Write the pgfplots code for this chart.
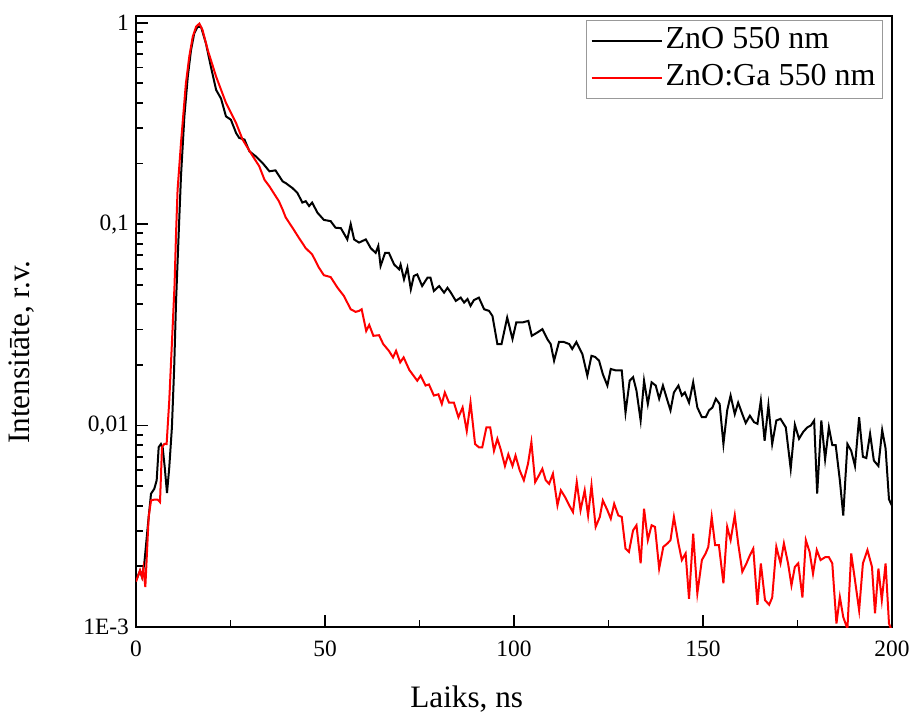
\documentclass[border=0pt]{standalone}
\usepackage{fontspec}
\setmainfont{Liberation Serif}
\usepackage{pgfplots}
\pgfplotsset{compat=1.18}
\begin{document}
\begin{tikzpicture}
\begin{axis}[
  scale only axis,
  width=378pt, height=305.5pt,
  ymode=log,
  xmin=0, xmax=200, ymin=0.001, ymax=1.08,
  xtick={0,50,100,150,200},
  xticklabels={0,50,100,150,200},
  minor x tick num=1,
  ytick={0.001,0.01,0.1,1},
  yticklabels={1E-3,{0,01},{0,1},1},
  tick pos=left,
  tick align=inside,
  major tick length=6pt,
  minor tick length=3.5pt,
  every tick/.style={black, line width=0.9pt},
  axis line style={line width=1.2pt},
  ticklabel style={font=\fontsize{11.7}{14}\selectfont},
  xticklabel style={yshift=-3.5pt},
  xlabel={Laiks, ns},
  ylabel={Intensitāte, r.v.},
  label style={font=\fontsize{15.6}{18}\selectfont},
  x label style={at={(axis description cs:0.4374,-0.1315)}, anchor=base},
  y label style={at={(axis description cs:-0.152,0.45)}, anchor=center, rotate=0},
  legend style={at={(rel axis cs:1,1)}, anchor=north east, xshift=-4.5pt, yshift=-2pt,
    draw=gray!80, line width=0.6pt, fill=white, inner xsep=2pt, inner ysep=1pt,
    font=\fontsize{16}{18}\selectfont,
    nodes={inner sep=1.5pt, text height=11.5pt, text depth=4pt}},
  legend cell align=left,
  legend image code/.code={\draw[#1] (0pt,0pt) -- (35pt,0pt);},
]
\addplot[black, line width=1pt] coordinates {
(0,0.0017) (1.06,0.0019) (1.6,0.00177) (2.2,0.00207) (3.1,0.00314) (3.97,0.00459)
(4.85,0.00486) (5.47,0.00535) (6.0,0.00781) (6.6,0.0081) (7.05,0.0078) (7.6,0.00622)
(8.2,0.00462) (8.8,0.0062) (9.5,0.0098) (10.1,0.0194) (10.6,0.0416) (11.3,0.0906)
(11.9,0.173) (12.8,0.343) (13.7,0.54) (14.55,0.73) (15.4,0.885) (16.3,0.955)
(17.2,0.955) (18.5,0.79) (19.8,0.606) (21.2,0.464) (22.5,0.42) (23.8,0.343)
(25.1,0.33) (26.5,0.283) (27.3,0.268) (28.7,0.263) (30.0,0.23) (31.7,0.217)
(33.5,0.201) (35.3,0.183) (36.9,0.185) (38.8,0.163) (39.6,0.160) (41.4,0.151)
(42.7,0.143) (44.0,0.128) (44.9,0.130) (45.8,0.123) (46.6,0.128) (48.0,0.114)
(49.7,0.105) (51.5,0.1035) (52.8,0.096) (54.2,0.0955) (55.9,0.084) (56.8,0.100)
(57.7,0.084) (59.0,0.081) (60.8,0.084) (62.1,0.076) (63.4,0.072) (64.1,0.078)
(64.7,0.062) (65.9,0.072) (66.9,0.072) (68.3,0.063) (69.6,0.0597) (70.0,0.063)
(70.9,0.0532) (71.8,0.0608) (72.7,0.0475) (73.5,0.0553) (74.4,0.0563) (75.7,0.0493)
(77.1,0.0542) (77.9,0.0542) (78.8,0.0466) (80.2,0.0493) (81.5,0.0457) (82.4,0.0483)
(83.3,0.0457) (84.6,0.0416) (85.9,0.0432) (86.8,0.0408) (87.7,0.0425) (88.5,0.0393)
(89.4,0.042) (90.7,0.0432) (92.1,0.0378) (93.4,0.0371) (94.3,0.035) (95.6,0.0254)
(96.7,0.0254) (98.2,0.0344) (99.6,0.0269) (100.6,0.0325) (102.2,0.0325) (103.8,0.0331)
(104.7,0.0279) (106.2,0.029) (107.5,0.0301) (108.8,0.0269) (109.7,0.0254) (110.6,0.021)
(111.9,0.026) (113.2,0.026) (114.6,0.0254) (115.4,0.024) (116.5,0.026) (118.1,0.0226)
(119.4,0.0177) (120.5,0.0222) (121.5,0.0219) (122.5,0.021) (123.5,0.018) (124.7,0.0158)
(125.6,0.0191) (126.9,0.0188) (128.5,0.0188) (129.5,0.0116) (130.6,0.0167) (131.5,0.0174)
(132.4,0.0149) (133.5,0.0106) (134.4,0.0167) (135.4,0.0128) (136.4,0.0164) (137.5,0.0158)
(138.4,0.0136) (139.4,0.0158) (140.6,0.0133) (141.4,0.0119) (142.3,0.0146) (143.5,0.0158)
(144.4,0.0141) (145.2,0.0146) (146.3,0.0130) (147.4,0.0164) (148.5,0.0123) (149.7,0.011)
(150.7,0.011) (151.6,0.0119) (152.5,0.0123) (153.4,0.0136) (154.4,0.0128) (155.4,0.0081)
(156.4,0.0119) (157.3,0.0141) (158.4,0.0114) (159.3,0.0130) (160.4,0.0114) (161.3,0.0103)
(162.4,0.0112) (163.5,0.0104) (164.4,0.0102) (165.3,0.0133) (166.3,0.0084) (167.3,0.0126)
(168.3,0.0081) (169.4,0.0106) (170.5,0.0108) (171.9,0.0098) (173.2,0.0061) (174.3,0.0101)
(175.4,0.0086) (176.5,0.0093) (177.6,0.0098) (178.5,0.0100) (179.4,0.0106) (180.2,0.0046)
(181.3,0.0106) (182.3,0.0068) (183.3,0.0098) (184.2,0.0080) (185.1,0.0080) (186.2,0.00535)
(187.1,0.00358) (188.2,0.0081) (189.2,0.0075) (190.2,0.0063) (191.3,0.011) (192.3,0.0070)
(193.2,0.0069) (194.2,0.0091) (195.2,0.0067) (196.4,0.0063) (197.4,0.0095) (198.3,0.0077)
(199.2,0.0043) (200,0.0040)
};
\addlegendentry{ZnO 550 nm}
\addplot[red, line width=1pt] coordinates {
(0,0.00168) (1.06,0.00191) (1.6,0.00177) (1.94,0.00195) (2.47,0.00158) (3.35,0.00352)
(3.97,0.00425) (4.85,0.00429) (5.73,0.00429) (6.35,0.00417) (6.88,0.00781) (7.5,0.00811)
(8.1,0.0081) (8.8,0.0133) (9.7,0.031) (10.2,0.05) (10.6,0.0906) (11.0,0.148)
(11.9,0.253) (13.2,0.50) (14.1,0.68) (15.0,0.85) (15.9,0.955) (16.75,0.99)
(17.6,0.92) (19.0,0.73) (21.2,0.54) (23.8,0.40) (26.5,0.317) (28.2,0.263)
(30.4,0.225) (32.6,0.194) (34.0,0.166) (35.3,0.154) (37.8,0.130) (38.8,0.118)
(39.6,0.108) (41.4,0.096) (43.1,0.0855) (44.9,0.076) (46.6,0.0708) (48.4,0.0608)
(49.7,0.0558) (51.5,0.0546) (53.3,0.0484) (55.0,0.0440) (56.8,0.0378) (58.1,0.0367)
(59.0,0.0371) (59.7,0.0378) (60.9,0.0295) (61.7,0.0316) (62.8,0.0279) (64.3,0.0281)
(65.4,0.0254) (66.9,0.0235) (68.0,0.0218) (68.8,0.0235) (69.9,0.0206) (70.8,0.0218)
(72.3,0.0189) (74.4,0.0167) (75.3,0.0177) (76.6,0.0158) (77.5,0.016) (78.8,0.0141)
(80.0,0.0143) (80.9,0.0128) (81.7,0.0146) (82.8,0.0130) (84.1,0.0130) (85.3,0.011)
(86.4,0.0123) (87.5,0.0094) (88.5,0.0130) (89.7,0.0081) (90.7,0.0078) (91.6,0.0078)
(92.7,0.0098) (93.7,0.0098) (94.7,0.0075) (95.6,0.0086) (96.5,0.0076) (97.6,0.0063)
(98.5,0.0072) (99.6,0.0063) (100.4,0.0071) (101.5,0.006) (102.6,0.00535) (103.7,0.00646)
(104.6,0.00827) (105.6,0.00524) (106.6,0.00566) (107.5,0.0061) (108.4,0.00535) (109.3,0.00514)
(110.3,0.00577) (111.5,0.00402) (112.4,0.00477) (113.5,0.00442) (114.6,0.00402) (115.6,0.00372)
(116.6,0.00524) (117.6,0.0038) (118.7,0.00477) (119.6,0.00358) (120.5,0.00505) (121.6,0.00314)
(122.7,0.00352) (123.5,0.00425) (124.7,0.0038) (125.6,0.00345) (126.5,0.00409) (127.6,0.00358)
(128.5,0.00352) (129.5,0.00245) (130.4,0.00236) (131.5,0.00302) (132.4,0.0032) (133.5,0.00207)
(134.4,0.00387) (135.4,0.0027) (136.4,0.0032) (137.3,0.00314) (138.4,0.00195) (139.5,0.0025)
(140.6,0.0026) (141.4,0.0027) (142.3,0.00352) (143.5,0.0026) (144.4,0.00215) (145.4,0.00232)
(146.3,0.00138) (147.4,0.00291) (148.5,0.00147) (149.7,0.00215) (150.7,0.00232) (151.4,0.0025)
(152.3,0.00352) (153.2,0.00255) (154.2,0.00255) (155.4,0.00165) (156.4,0.00314) (157.3,0.0027)
(158.4,0.00358) (159.3,0.0026) (160.4,0.00188) (161.5,0.00207) (162.4,0.00227) (163.3,0.00245)
(164.4,0.00129) (165.3,0.00207) (166.4,0.00136) (167.5,0.00129) (168.3,0.0014) (169.4,0.0025)
(170.5,0.00207) (171.4,0.0026) (172.5,0.00207) (173.4,0.00161) (174.3,0.00199) (175.2,0.00207)
(176.3,0.0014) (177.2,0.0027) (178.2,0.00236) (179.1,0.00184) (180.1,0.00241) (181.1,0.00215)
(182.3,0.00222) (183.3,0.00222) (184.2,0.00207) (185.3,0.00104) (186.2,0.00141) (187.1,0.00112)
(188.2,0.00098) (189.2,0.00232) (190.2,0.00171) (191.3,0.00121) (192.3,0.00207) (193.5,0.00241)
(194.7,0.00199) (195.5,0.00117) (196.4,0.00195) (197.3,0.00136) (198.3,0.00207) (199.2,0.00104)
(200,0.00095)
};
\addlegendentry{ZnO:Ga 550 nm}
\end{axis}
\pgfresetboundingbox
\useasboundingbox (-68pt,-44pt) rectangle (388.5pt,313.5pt);
\end{tikzpicture}
\end{document}
